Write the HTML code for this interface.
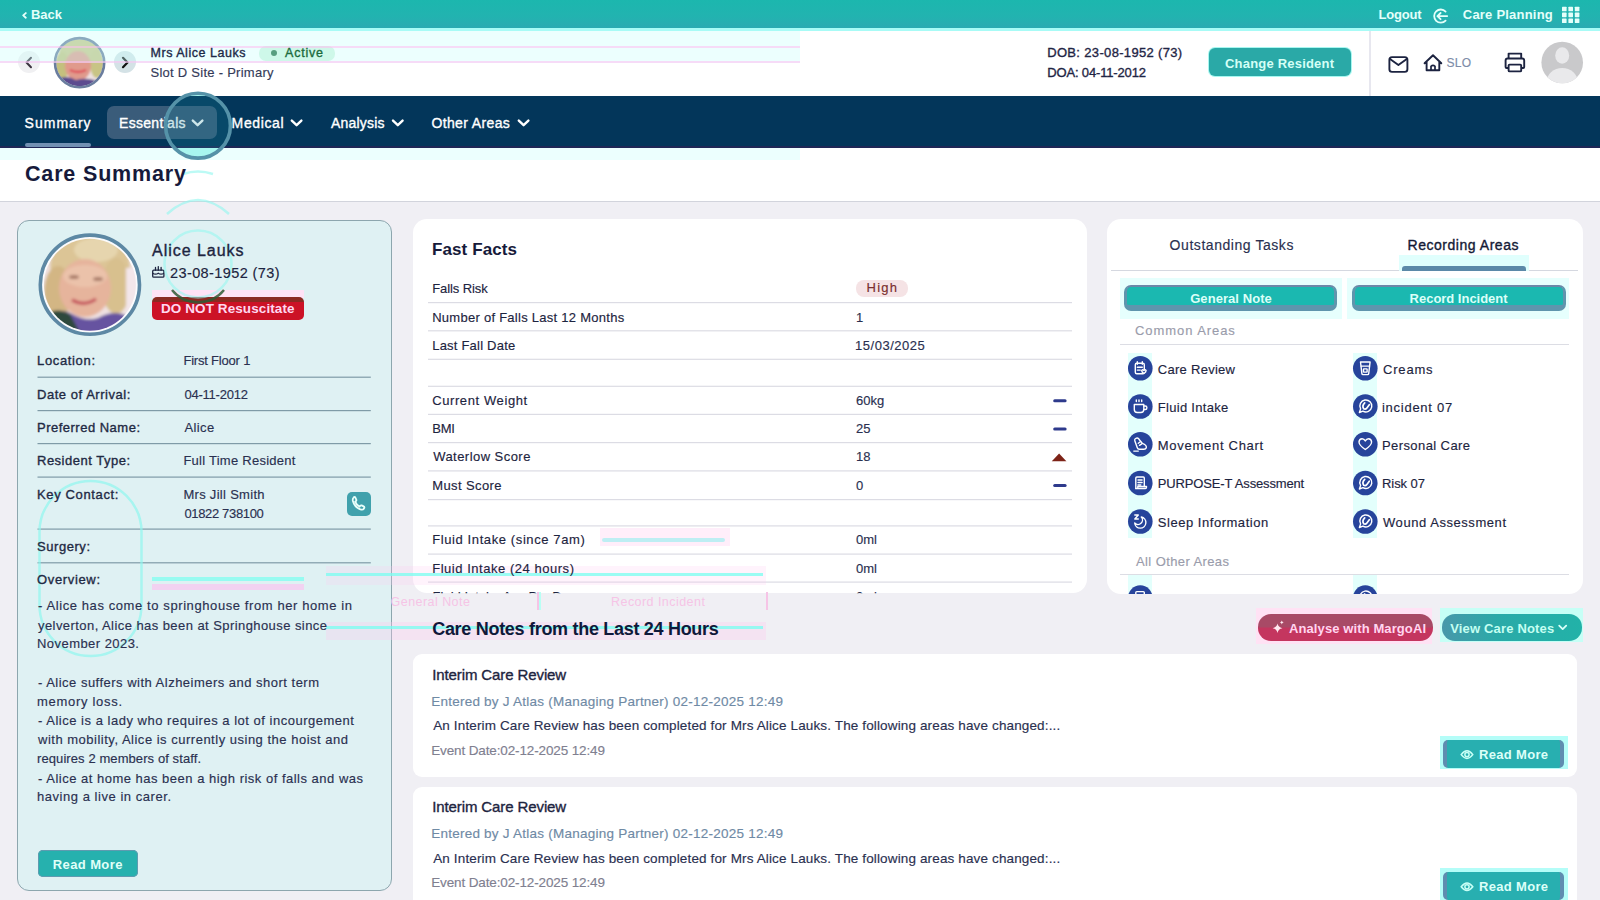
<!DOCTYPE html>
<html><head><meta charset="utf-8"><style>
*{box-sizing:border-box;margin:0;padding:0}
html,body{width:1600px;height:900px;overflow:hidden}
body{position:relative;background:#f0eff4;font-family:"Liberation Sans",Arial,sans-serif}
.t{position:absolute;line-height:1;white-space:nowrap}
.a{position:absolute}
svg{position:absolute;overflow:visible}
.g{position:absolute;line-height:1;white-space:nowrap}

</style></head><body>
<!-- top bar -->
<div class="a" style="left:0;top:0;width:1600px;height:28px;background:linear-gradient(#1cb7ae,#22b3b0 60%,#2aaab2)"></div>
<svg style="left:0;top:0" width="1600" height="30">
  <path d="M25.8 13.1 L23.2 15.4 L25.8 17.7" fill="none" stroke="#e4fffa" stroke-width="1.9" stroke-linecap="round" stroke-linejoin="round"/>
  <!-- logout icon -->
  <path d="M1445.6 11.6 A6.6 6.6 0 1 0 1445.6 20.6" fill="none" stroke="#e4fffa" stroke-width="1.8" stroke-linecap="round"/>
  <path d="M1447.2 16.1 H1437.6 M1440.6 13 L1437.4 16.1 L1440.6 19.2" fill="none" stroke="#e4fffa" stroke-width="1.8" stroke-linecap="round" stroke-linejoin="round"/>
  <!-- grid icon -->
  <g fill="#e4fffa">
    <rect x="1562" y="6.7" width="4.6" height="4.6" rx="0.6"/><rect x="1568.4" y="6.7" width="4.6" height="4.6" rx="0.6"/><rect x="1574.8" y="6.7" width="4.6" height="4.6" rx="0.6"/>
    <rect x="1562" y="12.6" width="4.6" height="4.6" rx="0.6"/><rect x="1568.4" y="12.6" width="4.6" height="4.6" rx="0.6"/><rect x="1574.8" y="12.6" width="4.6" height="4.6" rx="0.6"/>
    <rect x="1562" y="18.5" width="4.6" height="4.6" rx="0.6"/><rect x="1568.4" y="18.5" width="4.6" height="4.6" rx="0.6"/><rect x="1574.8" y="18.5" width="4.6" height="4.6" rx="0.6"/>
  </g>
</svg>

<!-- header -->
<div class="a" style="left:0;top:28px;width:1600px;height:68px;background:#fff"></div>
<div class="a" style="left:0;top:28px;width:1600px;height:3px;background:#a8fbf6"></div>
<div class="a" style="left:1369px;top:31px;width:2px;height:65px;background:#e7e7ef"></div>
<div class="a" style="left:17.7px;top:51.4px;width:22px;height:22px;border-radius:50%;background:#f0f0f2"></div>
<div class="a" style="left:114px;top:51.4px;width:22px;height:22px;border-radius:50%;background:#d4e2e6"></div>
<svg style="left:0;top:0" width="1600" height="100">
  <path d="M31 57.8 L26.5 62.5 L31 67.2" fill="none" stroke="#3c3440" stroke-width="2" stroke-linecap="round" stroke-linejoin="round"/>
  <path d="M123 57.8 L127.5 62.5 L123 67.2" fill="none" stroke="#111" stroke-width="2.2" stroke-linecap="round" stroke-linejoin="round"/>
  <!-- header avatar photo -->
  <defs><clipPath id="cp1"><circle cx="79.6" cy="62.7" r="23.5"/></clipPath></defs>
  <filter id="bl1" x="-20%" y="-20%" width="140%" height="140%"><feGaussianBlur stdDeviation="0.9"/></filter>
  <g clip-path="url(#cp1)"><g filter="url(#bl1)">
    <rect x="50" y="34" width="60" height="60" fill="#efe2e2"/>
    <ellipse cx="80" cy="53" rx="21" ry="16" fill="#c9c587"/>
    <ellipse cx="62" cy="66" rx="7" ry="14" fill="#c4c07e"/>
    <ellipse cx="97" cy="64" rx="7" ry="14" fill="#c8c485"/>
    <ellipse cx="78" cy="66" rx="13" ry="15" fill="#e09a8c"/>
    <path d="M70 70 Q78 74 86 70" fill="none" stroke="#e0505a" stroke-width="2.4"/>
    <path d="M52 92 L56 80 Q66 74 76 80 Q88 76 104 84 L108 92 Z" fill="#5b4c8f"/>
  </g></g>
  <circle cx="79.6" cy="62.7" r="24.6" fill="none" stroke="#6a7d9e" stroke-width="2.6"/>
  <!-- Active dot -->
  <!-- mail -->
  <rect x="1389.4" y="57.1" width="18" height="14.8" rx="2.6" fill="none" stroke="#1c2340" stroke-width="1.9"/>
  <path d="M1390 59 L1398.4 65 L1406.8 59" fill="none" stroke="#1c2340" stroke-width="1.9" stroke-linecap="round" stroke-linejoin="round"/>
  <!-- home -->
  <path d="M1424.6 63.3 L1433 55.2 L1441.3 63.3 M1426.6 61.5 V70.2 H1439.3 V61.5" fill="none" stroke="#1c2340" stroke-width="1.9" stroke-linecap="round" stroke-linejoin="round"/>
  <path d="M1431 70.2 V66.3 Q1433 64.5 1435 66.3 V70.2" fill="none" stroke="#1c2340" stroke-width="1.7"/>
  <!-- printer -->
  <path d="M1508.6 58.5 V53.6 H1521.2 V58.5" fill="none" stroke="#1c2340" stroke-width="1.9" stroke-linejoin="round"/>
  <path d="M1508.6 68 H1506.6 Q1505.6 68 1505.6 67 V60.5 Q1505.6 58.5 1507.6 58.5 H1522.2 Q1524.2 58.5 1524.2 60.5 V67 Q1524.2 68 1523.2 68 H1521.2" fill="none" stroke="#1c2340" stroke-width="1.9" stroke-linejoin="round"/>
  <rect x="1508.6" y="64.6" width="12.6" height="6.8" rx="1" fill="none" stroke="#1c2340" stroke-width="1.9"/>
  <!-- user avatar -->
  <defs><clipPath id="cp2"><circle cx="1562.2" cy="62.5" r="20.8"/></clipPath></defs>
  <circle cx="1562.2" cy="62.5" r="20.8" fill="#c9c9cb"/>
  <g clip-path="url(#cp2)" fill="#e9e9eb">
    <ellipse cx="1562.2" cy="55.5" rx="7" ry="8.2"/>
    <ellipse cx="1562.2" cy="82" rx="15.5" ry="14"/>
  </g>
</svg>
<div class="a" style="left:259.4px;top:45.5px;width:75.6px;height:15px;border-radius:7px;background:#d2f4df"></div>
<div class="a" style="left:271.4px;top:50px;width:6px;height:6px;border-radius:50%;background:#1b6b3c"></div>
<div class="a" style="left:1209px;top:48.4px;width:142px;height:27.6px;border-radius:6px;background:#2aa9a7;box-shadow:0 0 0 1px #a6f7f0"></div>

<!-- nav -->
<div class="a" style="left:0;top:96px;width:1600px;height:52px;background:#03365a;border-bottom:2px solid #1f2756"></div>
<div class="a" style="left:25px;top:143px;width:66px;height:4px;border-radius:2px;background:#7291b3"></div>
<div class="a" style="left:107px;top:106px;width:110px;height:33px;border-radius:7px;background:#3a5c7a"></div>
<svg style="left:0;top:0" width="600" height="150">
  <g fill="none" stroke="#fff" stroke-width="2.4" stroke-linecap="round" stroke-linejoin="round">
    <path d="M192.8 120.6 L197.6 125.2 L202.4 120.6"/>
    <path d="M291.8 120.6 L296.6 125.2 L301.4 120.6"/>
    <path d="M393 120.6 L397.8 125.2 L402.6 120.6"/>
    <path d="M518.8 120.6 L523.6 125.2 L528.4 120.6"/>
  </g>
</svg>

<!-- title -->
<div class="a" style="left:0;top:148px;width:1600px;height:54px;background:#fff;border-bottom:1px solid #d2d4dc"></div>

<!-- left card -->
<div class="a" style="left:17px;top:219.7px;width:374.5px;height:671.8px;border-radius:12px;background:#dff1f3;border:1px solid #8da6ae"></div>
<svg style="left:0;top:0" width="400" height="900">
  <defs><clipPath id="cp3"><circle cx="89.9" cy="284.7" r="46"/></clipPath></defs>
  <filter id="bl2" x="-20%" y="-20%" width="140%" height="140%"><feGaussianBlur stdDeviation="1.6"/></filter>
  <circle cx="89.9" cy="284.7" r="48" fill="#fbfbfd"/>
  <g clip-path="url(#cp3)"><g filter="url(#bl2)">
    <rect x="40" y="235" width="100" height="100" fill="#efe2e2"/>
    <ellipse cx="90" cy="266" rx="40" ry="30" fill="#dcc596"/>
    <ellipse cx="58" cy="292" rx="14" ry="26" fill="#d3b684"/>
    <ellipse cx="116" cy="286" rx="14" ry="28" fill="#d8c08e"/>
    <ellipse cx="96" cy="250" rx="22" ry="12" fill="#e6d5ae"/>
    <ellipse cx="85" cy="288" rx="26" ry="29" fill="#e6b49c"/>
    <ellipse cx="85" cy="276" rx="22" ry="11" fill="#ebc2aa"/>
    <ellipse cx="74" cy="277" rx="5" ry="2" fill="#a87a68"/>
    <ellipse cx="98" cy="279" rx="5" ry="2" fill="#a87a68"/>
    <path d="M72 300 Q84 307 96 299" fill="none" stroke="#c4505a" stroke-width="3.2"/>
    <path d="M40 340 L46 318 Q58 306 72 314 Q86 322 98 318 Q116 308 130 318 L140 340 Z" fill="#6653a0"/>
    <path d="M40 340 L44 316 Q56 306 70 314 L84 340 Z" fill="#2e4a3c"/>
    <rect x="126" y="268" width="14" height="50" fill="#f3e6ea"/>
  </g></g>
  <circle cx="89.9" cy="284.7" r="49.6" fill="none" stroke="#5d88a4" stroke-width="3.6"/>
  <!-- cake icon -->
  <g fill="none" stroke="#1d2440" stroke-width="1.3" stroke-linejoin="round">
    <rect x="152.7" y="270.2" width="11.2" height="7" rx="1"/>
    <path d="M152.7 273.2 Q155.5 275.2 158.3 273.2 Q161.1 275.2 163.9 273.2"/>
    <path d="M155.5 270.2 V267.4 M158.3 270.2 V266.6 M161.1 270.2 V267.4" stroke-linecap="round"/>
  </g>
  <!-- row lines -->
  <g fill="#7f9ba7">
    <rect x="37.5" y="376.6" width="333.3" height="1.2"/>
    <rect x="37.5" y="410" width="333.3" height="1.2"/>
    <rect x="37.5" y="443" width="333.3" height="1.2"/>
    <rect x="37.5" y="476.5" width="333.3" height="1.2"/>
    <rect x="37.5" y="528.5" width="333.3" height="1.2"/>
    <rect x="37.5" y="562.2" width="333.3" height="1.2"/>
  </g>
</svg>
<div class="a" style="left:152px;top:289.5px;width:152px;height:8px;background:#ffe2f5"></div>
<div class="a" style="left:152px;top:297px;width:152px;height:23px;border-radius:5px;background:linear-gradient(#8b2a22 0,#8b2a22 5px,#cc1226 5px)"></div>
<div class="a" style="left:346.8px;top:492px;width:24px;height:23.6px;border-radius:5px;background:#40a1ac"></div>
<svg style="left:0;top:0" width="400" height="900">
  <path d="M353.6 497.6 Q352.4 498.6 352.9 501 Q354.4 507 360.4 509.4 Q362.8 510.2 363.8 508.8 L364.4 507.6 Q364.4 506.8 363.6 506.4 L361.6 505.4 Q360.8 505.1 360.2 505.8 L359.6 506.6 Q356.4 505 355.2 501.6 L356 501 Q356.6 500.4 356.3 499.6 L355.4 497.6 Q355 496.8 354.2 497 Z" fill="none" stroke="#e8fffa" stroke-width="1.8" stroke-linejoin="round"/>
</svg>
<div class="a" style="left:38px;top:850px;width:100px;height:27px;border-radius:5px;background:#26b1ae;box-shadow:0 0 0 1px #5f9bb0 inset"></div>

<!-- fast facts card -->
<div class="a" style="left:412.5px;top:218.8px;width:674.5px;height:374.5px;border-radius:14px;background:#fff"></div>
<svg style="left:0;top:0" width="1100" height="600">
  <g fill="#dcdce4">
    <rect x="428" y="302" width="644" height="1.2"/>
    <rect x="428" y="330.2" width="644" height="1.2"/>
    <rect x="428" y="358.7" width="644" height="1.2"/>
    <rect x="428" y="385.7" width="644" height="1.2"/>
    <rect x="428" y="413.8" width="644" height="1.2"/>
    <rect x="428" y="442" width="644" height="1.2"/>
    <rect x="428" y="470.3" width="644" height="1.2"/>
    <rect x="428" y="499" width="644" height="1.2"/>
    <rect x="428" y="525.3" width="644" height="1.2"/>
    <rect x="428" y="553.5" width="644" height="1.2"/>
    <rect x="428" y="581.5" width="644" height="1.2"/>
  </g>
  <g stroke="#2e3a8c" stroke-width="3" stroke-linecap="round">
    <path d="M1054.7 400.8 H1065.1"/>
    <path d="M1054.7 429.1 H1065.1"/>
    <path d="M1054.7 485.6 H1065.1"/>
  </g>
  <path d="M1051.8 461.2 L1059.1 453.4 L1066.4 461.2 Z" fill="#7d2317"/>
</svg>
<div class="a" style="left:856px;top:279.6px;width:51.8px;height:17.1px;border-radius:8px;background:#f5e3e5"></div>

<!-- right card -->
<div class="a" style="left:1107px;top:219.4px;width:476px;height:374.3px;border-radius:14px;background:#fff;overflow:hidden">
  <div class="a" style="left:4px;top:50.4px;width:467px;height:1.5px;background:#d5d8e0"></div>
  <div class="a" style="left:292px;top:36px;width:130px;height:16px;background:#e0fffd"></div>
  <div class="a" style="left:294.6px;top:46.6px;width:124px;height:5.5px;border-radius:3px 3px 0 0;background:#5b89a8"></div>
  <div class="a" style="left:13px;top:58.6px;width:222px;height:41px;background:#e6fffd"></div>
  <div class="a" style="left:240px;top:58.6px;width:222px;height:41px;background:#e6fffd"></div>
  <div class="a" style="left:17.4px;top:65.6px;width:213px;height:25.6px;border-radius:7px;background:#1bb8b0;border:3px solid #5f95ad;border-top:2.5px solid #6c88a8;border-bottom-width:6px"></div>
  <div class="a" style="left:244.6px;top:65.6px;width:214px;height:25.6px;border-radius:7px;background:#1bb8b0;border:3px solid #5f95ad;border-top:2.5px solid #6c88a8;border-bottom-width:6px"></div>
  <div class="a" style="left:13px;top:124.6px;width:449.4px;height:1.2px;background:#dcdde4"></div>
  <div class="a" style="left:13px;top:354.6px;width:449.4px;height:1.2px;background:#dcdde4"></div>
  <div class="a" style="left:21px;top:134px;width:24px;height:185px;background:#e3fffc"></div>
  <div class="a" style="left:246px;top:134px;width:24px;height:185px;background:#e3fffc"></div>
  <div class="a" style="left:21px;top:356px;width:24px;height:20px;background:#e3fffc"></div>
  <div class="a" style="left:246px;top:356px;width:24px;height:20px;background:#e3fffc"></div>
  <svg style="left:0;top:0" width="476" height="380" id="ricons">
<circle cx="33.3" cy="149.3" r="12.3" fill="#27449b"/>
<g transform="translate(33.3 149.3)" fill="none" stroke="#fff" stroke-width="1.4" stroke-linecap="round" stroke-linejoin="round"><rect x="-5" y="-5" width="9" height="10.5" rx="1.5"/><path d="M-3 -6.5 V-4 M2 -6.5 V-4 M-3 -1 H2 M-3 1.8 H0"/><path d="M3.6 2.2 q1.1 -1.4 2.2 0 q0 1.6 -2.2 3 q-2.2 -1.4 -2.2 -3 q1.1 -1.4 2.2 0z" fill="#27449b"/></g>
<circle cx="258.3" cy="149.3" r="12.3" fill="#27449b"/>
<g transform="translate(258.3 149.3)" fill="none" stroke="#fff" stroke-width="1.4" stroke-linecap="round" stroke-linejoin="round"><path d="M-4.8 -6.3 H4.8 L3.4 5.3 Q3.3 6.3 2.3 6.3 H-2.3 Q-3.3 6.3 -3.4 5.3 Z"/><path d="M-4.2 -2.2 H4.2"/><rect x="-1.8" y="0.6" width="3.6" height="3.2" rx="0.4"/></g>
<circle cx="33.3" cy="187.5" r="12.3" fill="#27449b"/>
<g transform="translate(33.3 187.5)" fill="none" stroke="#fff" stroke-width="1.4" stroke-linecap="round" stroke-linejoin="round"><path d="M-6 -2 H3.5 V3 Q3.5 6 0.5 6 H-3 Q-6 6 -6 3 Z"/><path d="M3.5 -0.5 H5 Q6.6 -0.5 6.6 1.2 Q6.6 3 5 3 H3.5"/><path d="M-4 -6.5 V-5 M-1.3 -6.5 V-5 M1.4 -6.5 V-5"/></g>
<circle cx="258.3" cy="187.5" r="12.3" fill="#27449b"/>
<g transform="translate(258.3 187.5)" fill="none" stroke="#fff" stroke-width="1.4" stroke-linecap="round" stroke-linejoin="round"><path d="M-5.9 6 L-4.7 2.4 A6 6 0 1 1 -2.4 4.7 Z"/><path d="M-0.6 -3.6 Q-3.6 -0.6 -1.6 2.2 Q0.2 3.2 1.6 1.4 L4 -1.8" stroke-width="1.7"/></g>
<circle cx="33.3" cy="225.3" r="12.3" fill="#27449b"/>
<g transform="translate(33.3 225.3)" fill="none" stroke="#fff" stroke-width="1.4" stroke-linecap="round" stroke-linejoin="round"><path d="M-4.5 -6 Q-2 -7 -1 -4.5 L2 -1 Q6.5 0.5 6 3.5 Q5.5 5 3.5 5 H-1 Q-2.5 5 -3 3.5 L-5.5 -3.5 Q-6 -5.5 -4.5 -6 Z"/><path d="M-6.5 6.8 H-2"/><path d="M-2 -1 L0 -2.5 M-0.8 1 L1.4 -0.5"/></g>
<circle cx="258.3" cy="225.3" r="12.3" fill="#27449b"/>
<g transform="translate(258.3 225.3)" fill="none" stroke="#fff" stroke-width="1.4" stroke-linecap="round" stroke-linejoin="round"><path d="M0 5.2 Q-6.5 0.8 -6.3 -2.4 Q-6 -5.6 -3.2 -5.6 Q-1.2 -5.6 0 -3.4 Q1.2 -5.6 3.2 -5.6 Q6 -5.6 6.3 -2.4 Q6.5 0.8 0 5.2 Z"/></g>
<circle cx="33.3" cy="264.0" r="12.3" fill="#27449b"/>
<g transform="translate(33.3 264.0)" fill="none" stroke="#fff" stroke-width="1.4" stroke-linecap="round" stroke-linejoin="round"><path d="M-4.5 5.5 V-5 Q-4.5 -6 -3.5 -6 H3 Q4 -6 4 -5 V3.5"/><path d="M-4.5 5.5 H5 Q6.2 5.5 6.2 4.3 V3.5 H-2.5 V4.5"/><path d="M-2.3 -3 H1.8 M-2.3 -0.5 H1.8 M-2.3 2 H0.5"/></g>
<circle cx="258.3" cy="264.0" r="12.3" fill="#27449b"/>
<g transform="translate(258.3 264.0)" fill="none" stroke="#fff" stroke-width="1.4" stroke-linecap="round" stroke-linejoin="round"><path d="M-5.9 6 L-4.7 2.4 A6 6 0 1 1 -2.4 4.7 Z"/><path d="M-0.6 -3.6 Q-3.6 -0.6 -1.6 2.2 Q0.2 3.2 1.6 1.4 L4 -1.8" stroke-width="1.7"/></g>
<circle cx="33.3" cy="302.5" r="12.3" fill="#27449b"/>
<g transform="translate(33.3 302.5)" fill="none" stroke="#fff" stroke-width="1.4" stroke-linecap="round" stroke-linejoin="round"><path d="M-5.5 -6.5 H-2 L-5.5 -2.5 H-2"/><path d="M1 -4.5 A5.6 5.6 0 1 1 -5.6 1.5 A4.4 4.4 0 0 0 1 -4.5 Z"/></g>
<circle cx="258.3" cy="302.5" r="12.3" fill="#27449b"/>
<g transform="translate(258.3 302.5)" fill="none" stroke="#fff" stroke-width="1.4" stroke-linecap="round" stroke-linejoin="round"><path d="M-5.9 6 L-4.7 2.4 A6 6 0 1 1 -2.4 4.7 Z"/><path d="M-0.6 -3.6 Q-3.6 -0.6 -1.6 2.2 Q0.2 3.2 1.6 1.4 L4 -1.8" stroke-width="1.7"/></g>
<circle cx="33.3" cy="378.6" r="12.3" fill="#27449b"/>
<g transform="translate(33.3 378.6)" fill="none" stroke="#fff" stroke-width="1.4" stroke-linecap="round" stroke-linejoin="round"><path d="M-4.5 5.5 V-5 Q-4.5 -6 -3.5 -6 H3 Q4 -6 4 -5 V3.5"/><path d="M-4.5 5.5 H5 Q6.2 5.5 6.2 4.3 V3.5 H-2.5 V4.5"/><path d="M-2.3 -3 H1.8 M-2.3 -0.5 H1.8 M-2.3 2 H0.5"/></g>
<circle cx="258.3" cy="378.6" r="12.3" fill="#27449b"/>
<g transform="translate(258.3 378.6)" fill="none" stroke="#fff" stroke-width="1.4" stroke-linecap="round" stroke-linejoin="round"><path d="M-5.9 6 L-4.7 2.4 A6 6 0 1 1 -2.4 4.7 Z"/><path d="M-0.6 -3.6 Q-3.6 -0.6 -1.6 2.2 Q0.2 3.2 1.6 1.4 L4 -1.8" stroke-width="1.7"/></g>
  </svg>
</div>

<!-- care notes -->
<div class="a" style="left:1256px;top:607.5px;width:176px;height:36px;background:#ffe2f4"></div>
<div class="a" style="left:1440px;top:607.5px;width:143px;height:34px;background:#c6fff6"></div>
<div class="a" style="left:1258.4px;top:614.3px;width:174.9px;height:26.3px;border-radius:13px;background:linear-gradient(#a84a66 0,#a84a66 48%,#c4365f 52%)"></div>
<div class="a" style="left:1442px;top:614.3px;width:140.4px;height:26.3px;border-radius:13px;background:linear-gradient(90deg,#4898aa,#2aaaa8 40%,#22b2a8)"></div>
<svg style="left:0;top:0" width="1600" height="900">
  <path d="M1277.5 623.5 Q1278.2 627.4 1282.4 628.2 Q1278.2 629 1277.5 632.9 Q1276.8 629 1272.6 628.2 Q1276.8 627.4 1277.5 623.5 Z" fill="#ffe8f0"/>
  <path d="M1281.8 620.6 Q1282.1 622.2 1283.7 622.5 Q1282.1 622.8 1281.8 624.4 Q1281.5 622.8 1279.9 622.5 Q1281.5 622.2 1281.8 620.6 Z" fill="#ffe8f0"/>
  <path d="M1559.2 625.6 L1562.7 629.1 L1566.2 625.6" fill="none" stroke="#d8fff8" stroke-width="1.8" stroke-linecap="round" stroke-linejoin="round"/>
</svg>
<div class="a" style="left:413px;top:654.4px;width:1164px;height:123px;border-radius:9px;background:#fff"></div>
<div class="a" style="left:413px;top:786.6px;width:1164px;height:130px;border-radius:9px;background:#fff"></div>
<div class="a" style="left:1440px;top:735.5px;width:128px;height:33.5px;background:#b4fdf8"></div>
<div class="a" style="left:1440px;top:867.7px;width:128px;height:33.5px;background:#b4fdf8"></div>
<div class="a" style="left:1443px;top:739.8px;width:121.4px;height:28.1px;border-radius:5px;background:#28afb0;border-left:4px solid #5f8db0;border-right:4px solid #5f8db0"></div>
<div class="a" style="left:1443px;top:872px;width:121.4px;height:28.1px;border-radius:5px;background:#28afb0;border-left:4px solid #5f8db0;border-right:4px solid #5f8db0"></div>
<svg style="left:0;top:0" width="1600" height="900">
  <g fill="none" stroke="#c8fff6" stroke-width="1.5">
    <path d="M1461.2 754.6 Q1467 747 1472.8 754.6 Q1467 762.2 1461.2 754.6 Z"/>
    <circle cx="1467" cy="754.6" r="2.1"/>
    <path d="M1461.2 886.8 Q1467 879.2 1472.8 886.8 Q1467 894.4 1461.2 886.8 Z"/>
    <circle cx="1467" cy="886.8" r="2.1"/>
  </g>
</svg>

<div class="a" style="left:0;top:31px;width:800px;height:32px;background:rgba(200,255,252,0.35)"></div>
<div class="a" style="left:0;top:45.5px;width:800px;height:2px;background:rgba(255,190,240,0.55)"></div>
<div class="a" style="left:0;top:60.5px;width:800px;height:2px;background:rgba(255,190,240,0.55)"></div>
<div class="a" style="left:0;top:148px;width:800px;height:12px;background:rgba(200,255,252,0.35)"></div>
<div class="a" style="left:326px;top:566px;width:440px;height:19px;background:rgba(255,200,240,0.22)"></div>
<div class="a" style="left:326px;top:573px;width:437px;height:2.5px;background:rgba(120,255,240,0.75)"></div>
<div class="a" style="left:602px;top:538px;width:123px;height:4px;border-radius:2px;background:rgba(120,255,240,0.75)"></div>
<div class="a" style="left:326px;top:622px;width:440px;height:18px;background:rgba(255,200,240,0.3)"></div>
<div class="a" style="left:326px;top:626px;width:437px;height:3px;background:rgba(120,255,240,0.75)"></div>
<div class="a" style="left:152px;top:577px;width:152px;height:4px;background:rgba(120,255,240,0.7)"></div>
<div class="a" style="left:152px;top:584px;width:152px;height:6px;background:rgba(255,190,240,0.6)"></div>
<div class="g" style="left:390.6px;top:596px;font-size:12.5px;color:#f6c4e6;letter-spacing:0.45px">General Note</div>
<div class="g" style="left:611px;top:596px;font-size:12.5px;color:#f6c4e6;letter-spacing:0.45px">Record Incident</div>
<div class="a" style="left:536.5px;top:592px;width:2px;height:18px;background:#f6c4e6"></div>
<div class="a" style="left:539px;top:592px;width:2px;height:18px;background:#b8fff4"></div>
<div class="a" style="left:765.5px;top:592px;width:2px;height:18px;background:#f6c4e6"></div>
<div class="a" style="left:600px;top:528px;width:130px;height:18px;background:rgba(255,205,240,0.35)"></div>
<svg style="left:0;top:0" width="400" height="900">
  <rect x="39.5" y="481" width="102" height="175" rx="51" fill="none" stroke="#8ff7ee" stroke-width="2.5" opacity="0.7"/>
</svg>
<svg style="left:0;top:0" width="400" height="400">
  <circle cx="198" cy="264" r="33.5" fill="none" stroke="#8ff7ee" stroke-width="2.5" opacity="0.55"/>
  <path d="M172 290 A33.5 33.5 0 0 0 224 290" fill="none" stroke="#2f5a35" stroke-width="2.5" opacity="0.85"/>
  <path d="M183 174 Q198 169 213 174" fill="none" stroke="#8ff7ee" stroke-width="2.5" opacity="0.6"/>
  <path d="M167 214 Q198 186 229 214" fill="none" stroke="#8ff7ee" stroke-width="2.5" opacity="0.6"/>
</svg>

<div class="t" id="t0" style="left:31.00px;top:8.01px;font-size:13.00px;font-weight:700;color:#e4fffa;letter-spacing:-0.026px;">Back</div>
<div class="t" id="t1" style="left:1378.60px;top:8.10px;font-size:13.00px;font-weight:700;color:#e4fffa;letter-spacing:-0.209px;">Logout</div>
<div class="t" id="t2" style="left:1462.80px;top:8.10px;font-size:13.00px;font-weight:700;color:#e4fffa;letter-spacing:0.215px;">Care Planning</div>
<div class="t" id="t3" style="left:150.50px;top:47.41px;font-size:12.50px;font-weight:400;color:#1d2a48;-webkit-text-stroke:0.35px #1d2a48;letter-spacing:0.533px;">Mrs Alice Lauks</div>
<div class="t" id="t4" style="left:285.00px;top:47.41px;font-size:12.50px;font-weight:400;color:#1b6b3c;-webkit-text-stroke:0.35px #1b6b3c;letter-spacing:0.791px;">Active</div>
<div class="t" id="t5" style="left:150.50px;top:65.51px;font-size:13.00px;font-weight:400;color:#343a58;-webkit-text-stroke:0.15px #343a58;letter-spacing:0.263px;">Slot D Site - Primary</div>
<div class="t" id="t6" style="left:1047.20px;top:46.41px;font-size:13.00px;font-weight:400;color:#1f2545;-webkit-text-stroke:0.35px #1f2545;letter-spacing:0.336px;">DOB: 23-08-1952 (73)</div>
<div class="t" id="t7" style="left:1047.20px;top:65.60px;font-size:13.00px;font-weight:400;color:#1f2545;-webkit-text-stroke:0.35px #1f2545;letter-spacing:-0.153px;">DOA: 04-11-2012</div>
<div class="t" id="t8" style="left:1225.00px;top:56.60px;font-size:13.00px;font-weight:700;color:#d5fff6;letter-spacing:0.201px;">Change Resident</div>
<div class="t" id="t9" style="left:1446.40px;top:57.20px;font-size:12.00px;font-weight:400;color:#7d8ca8;-webkit-text-stroke:0.15px #7d8ca8;letter-spacing:0.292px;">SLO</div>
<div class="t" id="t10" style="left:24.60px;top:115.81px;font-size:14.00px;font-weight:400;color:#ffffff;-webkit-text-stroke:0.35px #ffffff;letter-spacing:1.016px;">Summary</div>
<div class="t" id="t11" style="left:119.00px;top:115.81px;font-size:14.00px;font-weight:400;color:#ffffff;-webkit-text-stroke:0.35px #ffffff;letter-spacing:0.310px;">Essentials</div>
<div class="t" id="t12" style="left:231.60px;top:115.81px;font-size:14.00px;font-weight:400;color:#ffffff;-webkit-text-stroke:0.35px #ffffff;letter-spacing:0.625px;">Medical</div>
<div class="t" id="t13" style="left:331.00px;top:115.81px;font-size:14.00px;font-weight:400;color:#ffffff;-webkit-text-stroke:0.35px #ffffff;letter-spacing:0.208px;">Analysis</div>
<div class="t" id="t14" style="left:431.40px;top:115.81px;font-size:14.00px;font-weight:400;color:#ffffff;-webkit-text-stroke:0.35px #ffffff;letter-spacing:0.370px;">Other Areas</div>
<div class="t" id="t15" style="left:25.00px;top:164.31px;font-size:21.50px;font-weight:700;color:#171a3b;letter-spacing:0.838px;">Care Summary</div>
<div class="t" id="t16" style="left:152.00px;top:242.51px;font-size:16.00px;font-weight:400;color:#1d2440;-webkit-text-stroke:0.35px #1d2440;letter-spacing:0.967px;">Alice Lauks</div>
<div class="t" id="t17" style="left:170.00px;top:265.50px;font-size:14.50px;font-weight:400;color:#1d2440;-webkit-text-stroke:0.15px #1d2440;letter-spacing:0.393px;">23-08-1952 (73)</div>
<div class="t" id="t18" style="left:161.00px;top:302.26px;font-size:13.50px;font-weight:700;color:#ffd8f0;letter-spacing:0.085px;">DO NOT Resuscitate</div>
<div class="t" id="t19" style="left:37.00px;top:354.41px;font-size:13.00px;font-weight:400;color:#1f2a44;-webkit-text-stroke:0.35px #1f2a44;letter-spacing:0.654px;">Location:</div>
<div class="t" id="t20" style="left:183.40px;top:354.41px;font-size:13.00px;font-weight:400;color:#2a3050;-webkit-text-stroke:0.15px #2a3050;letter-spacing:-0.195px;">First Floor 1</div>
<div class="t" id="t21" style="left:37.00px;top:387.51px;font-size:13.00px;font-weight:400;color:#1f2a44;-webkit-text-stroke:0.35px #1f2a44;letter-spacing:0.542px;">Date of Arrival:</div>
<div class="t" id="t22" style="left:184.40px;top:387.51px;font-size:13.00px;font-weight:400;color:#2a3050;-webkit-text-stroke:0.15px #2a3050;letter-spacing:-0.216px;">04-11-2012</div>
<div class="t" id="t23" style="left:37.00px;top:421.01px;font-size:13.00px;font-weight:400;color:#1f2a44;-webkit-text-stroke:0.35px #1f2a44;letter-spacing:0.493px;">Preferred Name:</div>
<div class="t" id="t24" style="left:184.40px;top:421.01px;font-size:13.00px;font-weight:400;color:#2a3050;-webkit-text-stroke:0.15px #2a3050;letter-spacing:0.403px;">Alice</div>
<div class="t" id="t25" style="left:37.00px;top:454.01px;font-size:13.00px;font-weight:400;color:#1f2a44;-webkit-text-stroke:0.35px #1f2a44;letter-spacing:0.501px;">Resident Type:</div>
<div class="t" id="t26" style="left:183.40px;top:454.01px;font-size:13.00px;font-weight:400;color:#2a3050;-webkit-text-stroke:0.15px #2a3050;letter-spacing:0.256px;">Full Time Resident</div>
<div class="t" id="t27" style="left:37.00px;top:487.80px;font-size:13.00px;font-weight:400;color:#1f2a44;-webkit-text-stroke:0.35px #1f2a44;letter-spacing:0.633px;">Key Contact:</div>
<div class="t" id="t28" style="left:183.40px;top:487.80px;font-size:13.00px;font-weight:400;color:#2a3050;-webkit-text-stroke:0.15px #2a3050;letter-spacing:0.301px;">Mrs Jill Smith</div>
<div class="t" id="t29" style="left:37.00px;top:539.71px;font-size:13.00px;font-weight:400;color:#1f2a44;-webkit-text-stroke:0.35px #1f2a44;letter-spacing:0.551px;">Surgery:</div>
<div class="t" id="t30" style="left:37.00px;top:572.71px;font-size:13.00px;font-weight:400;color:#1f2a44;-webkit-text-stroke:0.35px #1f2a44;letter-spacing:0.650px;">Overview:</div>
<div class="t" id="t31" style="left:184.40px;top:506.71px;font-size:13.00px;font-weight:400;color:#2a3050;-webkit-text-stroke:0.15px #2a3050;letter-spacing:-0.341px;">01822 738100</div>
<div class="t" id="t32" style="left:38.00px;top:599.21px;font-size:13.00px;font-weight:400;color:#2a3050;-webkit-text-stroke:0.15px #2a3050;letter-spacing:0.593px;">- Alice has come to springhouse from her home in</div>
<div class="t" id="t33" style="left:38.00px;top:618.80px;font-size:13.00px;font-weight:400;color:#2a3050;-webkit-text-stroke:0.15px #2a3050;letter-spacing:0.432px;">yelverton, Alice has been at Springhouse since</div>
<div class="t" id="t34" style="left:37.00px;top:637.30px;font-size:13.00px;font-weight:400;color:#2a3050;-webkit-text-stroke:0.15px #2a3050;letter-spacing:0.452px;">November 2023.</div>
<div class="t" id="t35" style="left:38.00px;top:675.80px;font-size:13.00px;font-weight:400;color:#2a3050;-webkit-text-stroke:0.15px #2a3050;letter-spacing:0.486px;">- Alice suffers with Alzheimers and short term</div>
<div class="t" id="t36" style="left:37.00px;top:695.30px;font-size:13.00px;font-weight:400;color:#2a3050;-webkit-text-stroke:0.15px #2a3050;letter-spacing:0.700px;">memory loss.</div>
<div class="t" id="t37" style="left:38.00px;top:714.21px;font-size:13.00px;font-weight:400;color:#2a3050;-webkit-text-stroke:0.15px #2a3050;letter-spacing:0.514px;">- Alice is a lady who requires a lot of incourgement</div>
<div class="t" id="t38" style="left:38.00px;top:733.41px;font-size:13.00px;font-weight:400;color:#2a3050;-webkit-text-stroke:0.15px #2a3050;letter-spacing:0.505px;">with mobility, Alice is currently using the hoist and</div>
<div class="t" id="t39" style="left:37.00px;top:752.30px;font-size:13.00px;font-weight:400;color:#2a3050;-webkit-text-stroke:0.15px #2a3050;letter-spacing:0.089px;">requires 2 members of staff.</div>
<div class="t" id="t40" style="left:38.00px;top:771.80px;font-size:13.00px;font-weight:400;color:#2a3050;-webkit-text-stroke:0.15px #2a3050;letter-spacing:0.497px;">- Alice at home has been a high risk of falls and was</div>
<div class="t" id="t41" style="left:37.00px;top:790.41px;font-size:13.00px;font-weight:400;color:#2a3050;-webkit-text-stroke:0.15px #2a3050;letter-spacing:0.540px;">having a live in carer.</div>
<div class="t" id="t42" style="left:52.80px;top:858.01px;font-size:13.00px;font-weight:700;color:#e0fff8;letter-spacing:0.391px;">Read More</div>
<div class="t" id="t43" style="left:432.00px;top:241.00px;font-size:17.00px;font-weight:700;color:#161a3a;letter-spacing:0.101px;">Fast Facts</div>
<div class="t" id="t44" style="left:432.20px;top:282.01px;font-size:13.00px;font-weight:400;color:#1d2440;-webkit-text-stroke:0.15px #1d2440;letter-spacing:-0.094px;">Falls Risk</div>
<div class="t" id="t45" style="left:432.20px;top:310.76px;font-size:13.00px;font-weight:400;color:#1d2440;-webkit-text-stroke:0.15px #1d2440;letter-spacing:0.267px;">Number of Falls Last 12 Months</div>
<div class="t" id="t46" style="left:856.00px;top:310.76px;font-size:13.00px;font-weight:400;color:#2a3050;-webkit-text-stroke:0.15px #2a3050;">1</div>
<div class="t" id="t47" style="left:432.20px;top:339.01px;font-size:13.00px;font-weight:400;color:#1d2440;-webkit-text-stroke:0.15px #1d2440;letter-spacing:0.215px;">Last Fall Date</div>
<div class="t" id="t48" style="left:855.00px;top:339.01px;font-size:13.00px;font-weight:400;color:#2a3050;-webkit-text-stroke:0.15px #2a3050;letter-spacing:0.525px;">15/03/2025</div>
<div class="t" id="t49" style="left:432.20px;top:394.01px;font-size:13.00px;font-weight:400;color:#1d2440;-webkit-text-stroke:0.15px #1d2440;letter-spacing:0.601px;">Current Weight</div>
<div class="t" id="t50" style="left:856.00px;top:394.01px;font-size:13.00px;font-weight:400;color:#2a3050;-webkit-text-stroke:0.15px #2a3050;">60kg</div>
<div class="t" id="t51" style="left:432.20px;top:421.80px;font-size:13.00px;font-weight:400;color:#1d2440;-webkit-text-stroke:0.15px #1d2440;letter-spacing:-0.163px;">BMI</div>
<div class="t" id="t52" style="left:856.00px;top:421.80px;font-size:13.00px;font-weight:400;color:#2a3050;-webkit-text-stroke:0.15px #2a3050;">25</div>
<div class="t" id="t53" style="left:433.20px;top:450.01px;font-size:13.00px;font-weight:400;color:#1d2440;-webkit-text-stroke:0.15px #1d2440;letter-spacing:0.455px;">Waterlow Score</div>
<div class="t" id="t54" style="left:856.00px;top:450.01px;font-size:13.00px;font-weight:400;color:#2a3050;-webkit-text-stroke:0.15px #2a3050;">18</div>
<div class="t" id="t55" style="left:432.20px;top:478.51px;font-size:13.00px;font-weight:400;color:#1d2440;-webkit-text-stroke:0.15px #1d2440;letter-spacing:0.406px;">Must Score</div>
<div class="t" id="t56" style="left:856.00px;top:478.51px;font-size:13.00px;font-weight:400;color:#2a3050;-webkit-text-stroke:0.15px #2a3050;">0</div>
<div class="t" id="t57" style="left:432.20px;top:533.01px;font-size:13.00px;font-weight:400;color:#1d2440;-webkit-text-stroke:0.15px #1d2440;letter-spacing:0.603px;">Fluid Intake (since 7am)</div>
<div class="t" id="t58" style="left:856.00px;top:533.01px;font-size:13.00px;font-weight:400;color:#2a3050;-webkit-text-stroke:0.15px #2a3050;">0ml</div>
<div class="t" id="t59" style="left:432.20px;top:561.51px;font-size:13.00px;font-weight:400;color:#1d2440;-webkit-text-stroke:0.15px #1d2440;letter-spacing:0.533px;">Fluid Intake (24 hours)</div>
<div class="t" id="t60" style="left:856.00px;top:561.51px;font-size:13.00px;font-weight:400;color:#2a3050;-webkit-text-stroke:0.15px #2a3050;">0ml</div>
<div class="t" id="t61" style="left:432.60px;top:589.80px;font-size:13.00px;font-weight:400;color:#1d2440;-webkit-text-stroke:0.15px #1d2440;clip-path:inset(0 0 9.5px 0);">Fluid Intake Avg Per Day</div>
<div class="t" id="t62" style="left:856.00px;top:589.80px;font-size:13.00px;font-weight:400;color:#2a3050;-webkit-text-stroke:0.15px #2a3050;clip-path:inset(0 0 9.5px 0);">0ml</div>
<div class="t" id="t63" style="left:866.60px;top:281.21px;font-size:13.00px;font-weight:400;color:#7a2e2e;-webkit-text-stroke:0.15px #7a2e2e;letter-spacing:1.217px;">High</div>
<div class="t" id="t64" style="left:1169.60px;top:237.70px;font-size:14.00px;font-weight:400;color:#2a3050;-webkit-text-stroke:0.15px #2a3050;letter-spacing:0.555px;">Outstanding Tasks</div>
<div class="t" id="t65" style="left:1407.50px;top:237.70px;font-size:14.00px;font-weight:400;color:#141a36;-webkit-text-stroke:0.35px #141a36;letter-spacing:0.535px;">Recording Areas</div>
<div class="t" id="t66" style="left:1190.20px;top:291.51px;font-size:13.00px;font-weight:700;color:#dcfff8;letter-spacing:0.062px;">General Note</div>
<div class="t" id="t67" style="left:1409.60px;top:291.51px;font-size:13.00px;font-weight:700;color:#dcfff8;letter-spacing:-0.018px;">Record Incident</div>
<div class="t" id="t68" style="left:1135.00px;top:324.01px;font-size:13.00px;font-weight:400;color:#9a9cab;-webkit-text-stroke:0.15px #9a9cab;letter-spacing:0.928px;">Common Areas</div>
<div class="t" id="t69" style="left:1136.00px;top:554.60px;font-size:13.00px;font-weight:400;color:#9a9cab;-webkit-text-stroke:0.15px #9a9cab;letter-spacing:0.397px;">All Other Areas</div>
<div class="t" id="t70" style="left:1157.80px;top:362.76px;font-size:13.00px;font-weight:400;color:#1d2440;-webkit-text-stroke:0.15px #1d2440;letter-spacing:0.278px;">Care Review</div>
<div class="t" id="t71" style="left:1383.00px;top:362.76px;font-size:13.00px;font-weight:400;color:#1d2440;-webkit-text-stroke:0.15px #1d2440;letter-spacing:0.817px;">Creams</div>
<div class="t" id="t72" style="left:1157.80px;top:400.91px;font-size:13.00px;font-weight:400;color:#1d2440;-webkit-text-stroke:0.15px #1d2440;letter-spacing:0.291px;">Fluid Intake</div>
<div class="t" id="t73" style="left:1382.00px;top:400.91px;font-size:13.00px;font-weight:400;color:#1d2440;-webkit-text-stroke:0.15px #1d2440;letter-spacing:0.731px;">incident 07</div>
<div class="t" id="t74" style="left:1157.80px;top:438.71px;font-size:13.00px;font-weight:400;color:#1d2440;-webkit-text-stroke:0.15px #1d2440;letter-spacing:0.716px;">Movement Chart</div>
<div class="t" id="t75" style="left:1382.00px;top:438.71px;font-size:13.00px;font-weight:400;color:#1d2440;-webkit-text-stroke:0.15px #1d2440;letter-spacing:0.408px;">Personal Care</div>
<div class="t" id="t76" style="left:1157.80px;top:477.41px;font-size:13.00px;font-weight:400;color:#1d2440;-webkit-text-stroke:0.15px #1d2440;letter-spacing:-0.153px;">PURPOSE-T Assessment</div>
<div class="t" id="t77" style="left:1382.00px;top:477.41px;font-size:13.00px;font-weight:400;color:#1d2440;-webkit-text-stroke:0.15px #1d2440;letter-spacing:-0.060px;">Risk 07</div>
<div class="t" id="t78" style="left:1157.80px;top:515.91px;font-size:13.00px;font-weight:400;color:#1d2440;-webkit-text-stroke:0.15px #1d2440;letter-spacing:0.531px;">Sleep Information</div>
<div class="t" id="t79" style="left:1383.00px;top:515.91px;font-size:13.00px;font-weight:400;color:#1d2440;-webkit-text-stroke:0.15px #1d2440;letter-spacing:0.556px;">Wound Assessment</div>
<div class="t" id="t80" style="left:432.20px;top:620.01px;font-size:18.00px;font-weight:700;color:#10183a;letter-spacing:-0.296px;">Care Notes from the Last 24 Hours</div>
<div class="t" id="t81" style="left:1289.00px;top:622.01px;font-size:13.00px;font-weight:700;color:#ffd6f0;letter-spacing:0.101px;">Analyse with MargoAI</div>
<div class="t" id="t82" style="left:1450.20px;top:622.01px;font-size:13.00px;font-weight:700;color:#c4fff2;letter-spacing:0.169px;">View Care Notes</div>
<div class="t" id="t83" style="left:432.20px;top:667.00px;font-size:15.00px;font-weight:400;color:#1d2440;-webkit-text-stroke:0.35px #1d2440;letter-spacing:-0.104px;">Interim Care Review</div>
<div class="t" id="t84" style="left:431.20px;top:695.12px;font-size:13.50px;font-weight:400;color:#6f8aa5;-webkit-text-stroke:0.15px #6f8aa5;letter-spacing:0.237px;">Entered by J Atlas (Managing Partner) 02-12-2025 12:49</div>
<div class="t" id="t85" style="left:433.20px;top:719.42px;font-size:13.50px;font-weight:400;color:#2a3050;-webkit-text-stroke:0.15px #2a3050;letter-spacing:0.137px;">An Interim Care Review has been completed for Mrs Alice Lauks. The following areas have changed:...</div>
<div class="t" id="t86" style="left:431.20px;top:743.81px;font-size:13.50px;font-weight:400;color:#808090;-webkit-text-stroke:0.15px #808090;letter-spacing:-0.128px;">Event Date:02-12-2025 12:49</div>
<div class="t" id="t87" style="left:1479.00px;top:748.01px;font-size:13.00px;font-weight:700;color:#dcfff8;letter-spacing:0.316px;">Read More</div>
<div class="t" id="t88" style="left:432.20px;top:799.21px;font-size:15.00px;font-weight:400;color:#1d2440;-webkit-text-stroke:0.35px #1d2440;letter-spacing:-0.104px;">Interim Care Review</div>
<div class="t" id="t89" style="left:431.20px;top:827.31px;font-size:13.50px;font-weight:400;color:#6f8aa5;-webkit-text-stroke:0.15px #6f8aa5;letter-spacing:0.237px;">Entered by J Atlas (Managing Partner) 02-12-2025 12:49</div>
<div class="t" id="t90" style="left:433.20px;top:851.62px;font-size:13.50px;font-weight:400;color:#2a3050;-webkit-text-stroke:0.15px #2a3050;letter-spacing:0.137px;">An Interim Care Review has been completed for Mrs Alice Lauks. The following areas have changed:...</div>
<div class="t" id="t91" style="left:431.20px;top:876.01px;font-size:13.50px;font-weight:400;color:#808090;-webkit-text-stroke:0.15px #808090;letter-spacing:-0.128px;">Event Date:02-12-2025 12:49</div>
<div class="t" id="t92" style="left:1479.00px;top:880.21px;font-size:13.00px;font-weight:700;color:#dcfff8;letter-spacing:0.316px;">Read More</div>
<!-- ghost overlays -->
<svg style="left:0;top:0" width="1600" height="900">
  <defs>
    <clipPath id="navclip"><rect x="0" y="96" width="1600" height="52"/></clipPath>
    <clipPath id="offnav"><rect x="0" y="0" width="1600" height="96"/><rect x="0" y="148" width="1600" height="100"/></clipPath>
  </defs>
  <circle cx="198" cy="125.7" r="32.5" fill="#1a8fa0" opacity="0.22" clip-path="url(#navclip)"/>
  <circle cx="198" cy="125.7" r="32.5" fill="#a8f6ef" clip-path="url(#offnav)"/>
  <circle cx="198" cy="125.7" r="32.4" fill="none" stroke="#5592a8" stroke-width="3.6"/>
</svg>

</body></html>
